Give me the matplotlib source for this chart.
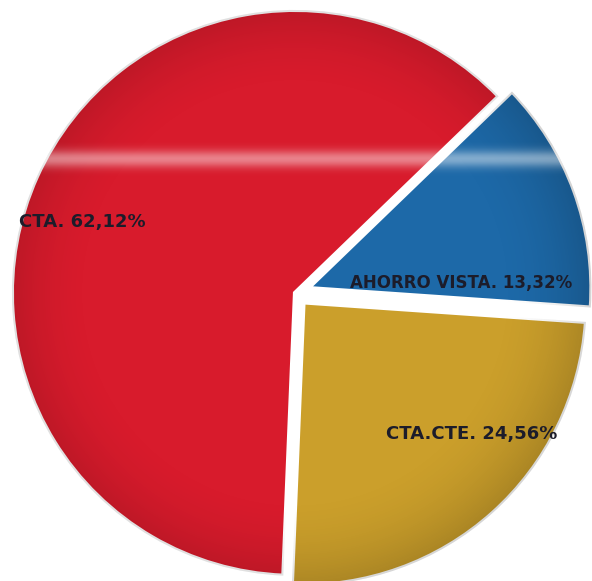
import numpy as np
import matplotlib
matplotlib.use("Agg")
import matplotlib.pyplot as plt

# Account shares
labels = ["CTA. 62,12%", "AHORRO VISTA. 13,32%", "CTA.CTE. 24,56%"]
shares = [62.12, 13.32, 24.56]
colors = ["#d81b2c", "#1d69a8", "#cb9f2b"]
explode = [0.0, 0.05, 0.045]

fig = plt.figure(figsize=(5.92, 5.81), dpi=100)
ax = fig.add_axes([0, 0, 1, 1])

wedges, _ = ax.pie(
    shares,
    colors=colors,
    explode=explode,
    startangle=44 + 360 * shares[0] / 100,
    counterclock=False,
    wedgeprops=dict(edgecolor="white", linewidth=3))

# Darken the slices towards the rim for a rounded look
extent = [-1.15, 1.2, -1.15, 1.15]
yy, xx = np.mgrid[-1.15:1.15:400j, -1.15:1.2:400j]
rr = np.sqrt(xx ** 2 + yy ** 2)
shade = np.zeros((400, 400, 4))
shade[..., 3] = np.clip((rr - 0.7) / 0.4, 0, 1) ** 2 * 0.22
for w in wedges:
    im = ax.imshow(shade, extent=extent, origin="lower",
                   zorder=3, interpolation="bilinear")
    im.set_clip_path(w)

# Light streak across the upper part
band = np.zeros((400, 400, 4))
band[..., :3] = 1.0
band[..., 3] = np.exp(-((yy - 0.475) / 0.03) ** 2) * 0.45
for w in wedges[:2]:
    im = ax.imshow(band, extent=extent, origin="lower",
                   zorder=4, interpolation="bilinear")
    im.set_clip_path(w)

ax.set_xlim(-1.042, 1.049)
ax.set_ylim(-1.018, 1.035)
ax.set_aspect("auto")
ax.axis("off")

text_pos = [(-0.975, 0.25), (0.195, 0.035), (0.32, -0.50)]
sizes = [13, 12, 13]
for label, (x, y), size in zip(labels, text_pos, sizes):
    ax.text(x, y, label, ha="left", va="center", fontsize=size,
            fontweight="bold", color="#1c1c2a", zorder=5)

plt.savefig("out.png", dpi=100)
